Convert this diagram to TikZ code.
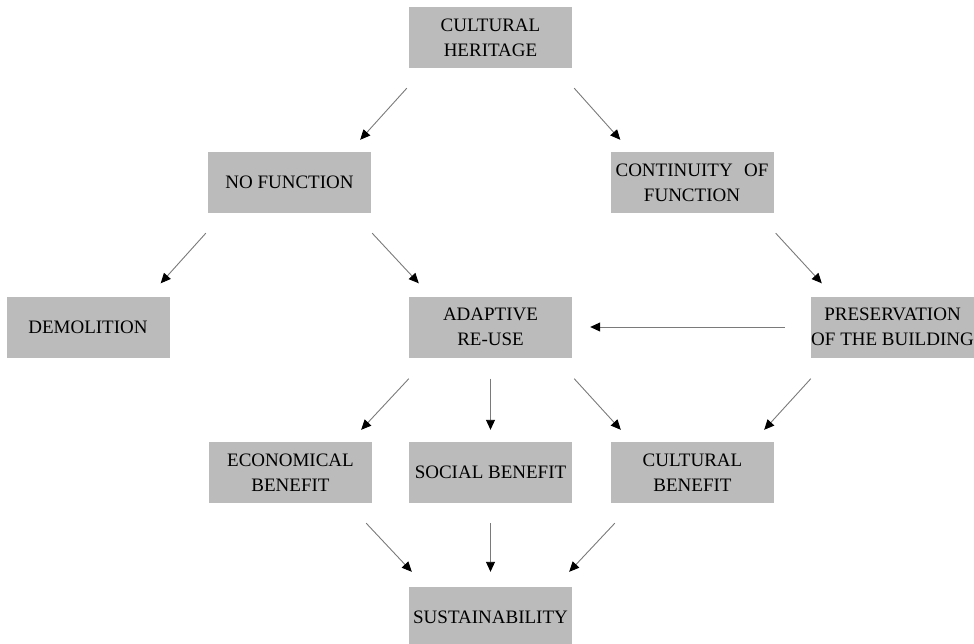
\documentclass[tikz,border=0pt]{standalone}
\usepackage{fontspec}
\setmainfont{Liberation Serif}
\usetikzlibrary{arrows.meta}
\definecolor{boxgray}{HTML}{BBBBBB}
\definecolor{linegray}{HTML}{7A7A7A}
\tikzset{
  box/.style={rectangle, fill=boxgray, draw=none, inner sep=0pt,
    minimum width=163pt, minimum height=61pt, align=center,
    font=\fontsize{19pt}{25pt}\selectfont, text=black},
  flow/.style={draw=linegray, line width=0.9pt,
    -{Triangle[length=10pt,width=9pt,fill=black,color=black]}}
}
\begin{document}
\begin{tikzpicture}[x=1pt,y=1pt]
  \useasboundingbox (0,0) rectangle (974,-644);
  \clip (0,0) rectangle (974,-644);

  % boxes, centred in a 974 x 644 frame
  \node[box] (ch)   at (490.5,-37.5)  {CULTURAL\\HERITAGE};
  \node[box] (nf)   at (289.5,-182.5) {NO FUNCTION};
  \node[box] (cof)  at (692,-182.5)   {CONTINUITY\hspace{0.6em}OF\\FUNCTION};
  \node[box] (dem)  at (88,-327)      {DEMOLITION};
  \node[box] (ar)   at (490.5,-327)   {ADAPTIVE\\RE-USE};
  \node[box] (pres) at (892.5,-327)   {PRESERVATION\\OF THE BUILDING};
  \node[box] (econ) at (290.5,-472.5) {ECONOMICAL\\BENEFIT};
  \node[box] (soc)  at (490.5,-472.5) {SOCIAL BENEFIT};
  \node[box] (cult) at (692.5,-472.5) {CULTURAL\\BENEFIT};
  \node[box] (sust) at (490.5,-617.5) {SUSTAINABILITY};

  % connectors
  \draw[flow] ([shift={(-2,-20)}]ch.south west) -- ([shift={(-11,12)}]nf.north east);
  \draw[flow] ([shift={(2,-20)}]ch.south east)  -- ([shift={(10,12)}]cof.north west);
  \draw[flow] ([shift={(-2,-20)}]nf.south west) -- ([shift={(-9,13)}]dem.north east);
  \draw[flow] ([shift={(1,-20)}]nf.south east)  -- ([shift={(10,13)}]ar.north west);
  \draw[flow] ([shift={(2,-20)}]cof.south east) -- ([shift={(11,13)}]pres.north west);
  \draw[flow] ([shift={(-26,0)}]pres.west)      -- ([shift={(18,0)}]ar.east);
  \draw[flow] ([shift={(0,-21)}]ar.south west)  -- ([shift={(-11,12)}]econ.north east);
  \draw[flow] ([shift={(0,-21)}]ar.south)       -- ([shift={(0,12)}]soc.north);
  \draw[flow] ([shift={(2,-21)}]ar.south east)  -- ([shift={(10,12)}]cult.north west);
  \draw[flow] ([shift={(0,-21)}]pres.south west) -- ([shift={(-10,12)}]cult.north east);
  \draw[flow] ([shift={(-6,-20)}]econ.south east) -- ([shift={(3,15)}]sust.north west);
  \draw[flow] ([shift={(0,-20)}]soc.south)      -- ([shift={(0,15)}]sust.north);
  \draw[flow] ([shift={(4,-20)}]cult.south west) -- ([shift={(-3,15)}]sust.north east);
\end{tikzpicture}
\end{document}
